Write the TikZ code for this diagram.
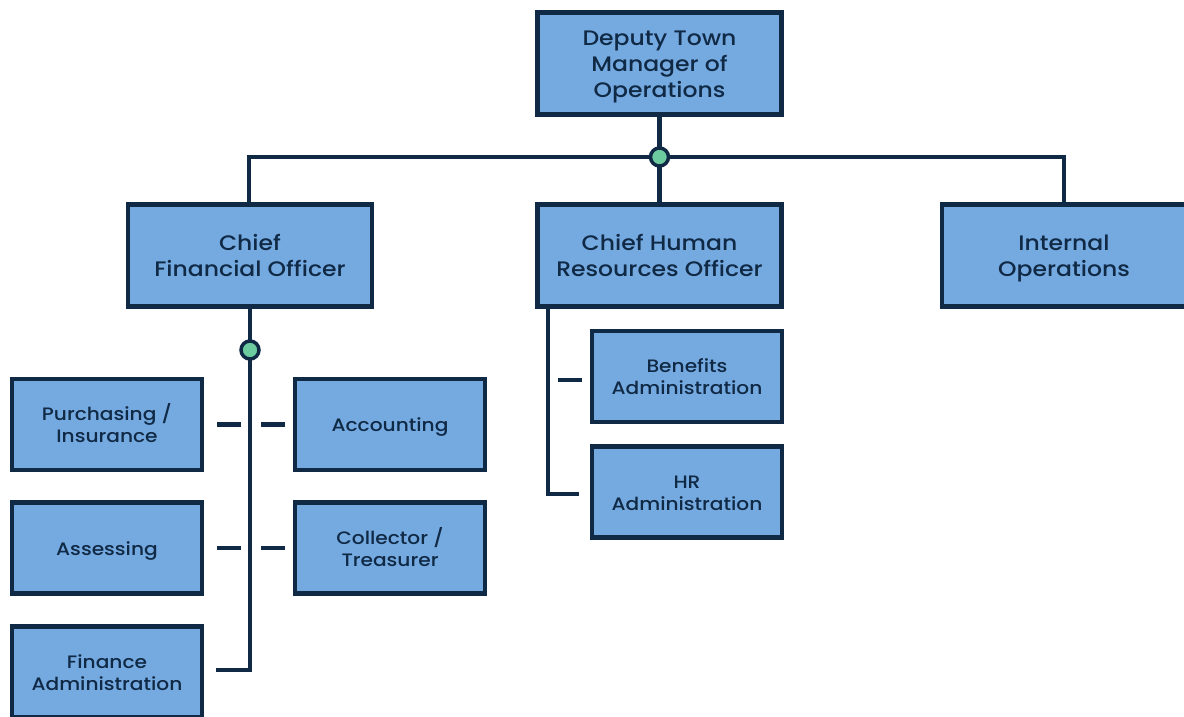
\documentclass[tikz,border=0pt]{standalone}
\usepackage{fontspec}
\setmainfont{Poppins Medium}[FakeStretch=1.12]
\usetikzlibrary{calc}
\definecolor{boxfill}{RGB}{117,170,225}
\definecolor{navy}{RGB}{16,41,69}
\definecolor{dotgreen}{RGB}{108,204,160}
\newcommand{\sline}[1]{\strut#1}
\newcommand{\fline}[1]{\rule[-0.3\baselineskip]{0pt}{\dimexpr\baselineskip+0.3em\relax}#1}
\tikzset{
  bigbox/.style={draw=navy, fill=boxfill, line width=4.5pt, minimum width=244pt, minimum height=102pt, align=center, text=navy, font=\fontsize{21}{26}\selectfont, inner sep=0pt},
  smallbox/.style={draw=navy, fill=boxfill, line width=4.5pt, minimum width=190pt, minimum height=91pt, align=center, text=navy, font=\fontsize{18}{22}\selectfont, inner sep=0pt},
  conn/.style={draw=navy, line width=4.6pt},
  junction/.style={circle, draw=navy, fill=dotgreen, line width=3.5pt, minimum size=18pt, inner sep=0pt},
}
\begin{document}
\begin{tikzpicture}[x=1pt, y=-1pt]
\useasboundingbox (0,0) rectangle (1184,717);
% nodes
\node[bigbox] (dtm) at (659.5,63.5) {\fline{Deputy Town}\\\sline{Manager of}\\\sline{Operations}};
\node[bigbox] (cfo) at (250,255.5) {\fline{Chief}\\\sline{Financial Officer}};
\node[bigbox] (chro) at (659.5,255.5) {\fline{Chief Human}\\\sline{Resources Officer}};
\node[bigbox] (io) at (1064,255.5) {\fline{Internal}\\\sline{Operations}};
\node[smallbox] (purch) at (107,424.5) {\fline{Purchasing /}\\\sline{Insurance}};
\node[smallbox] (acct) at (390,424.5) {\fline{Accounting}};
\node[smallbox] (assess) at (107,548) {\fline{Assessing}};
\node[smallbox] (coll) at (390,548) {\fline{Collector /}\\\sline{Treasurer}};
\node[smallbox] (fin) at (107,672) {\fline{Finance}\\\sline{Administration}};
\node[smallbox] (ben) at (687,376.5) {\fline{Benefits}\\\sline{Administration}};
\node[smallbox] (hra) at (687,492) {\fline{HR}\\\sline{Administration}};
% coordinates
\coordinate (top) at (659.5,157);
\coordinate (lt) at (249,157);
\coordinate (rt) at (1064,157);
\coordinate (cfodot) at (250,350);
\coordinate (cfoend) at (250,670);
\coordinate (finend) at (216,670);
\coordinate (chroend) at (548,494);
\coordinate (hraend) at (579,494);
% connectors
\draw[conn] (dtm.south) -- (top);
\draw[conn] (lt |- cfo.north) -- (lt) -- (rt) -- (rt |- io.north);
\draw[conn] (top) -- (chro.north);
\draw[conn] (cfo.south) -- (cfoend) -- (finend);
\draw[conn] (chroend |- chro.south) -- (chroend) -- (hraend);
% dashes
\draw[conn] ($(purch.east)+(13,0)$) -- ++(24,0);
\draw[conn] ($(acct.west)+(-32,0)$) -- ++(24,0);
\draw[conn] ($(assess.east)+(13,0)$) -- ++(24,0);
\draw[conn] ($(coll.west)+(-32,0)$) -- ++(24,0);
\draw[conn] ($(ben.west)+(-32,3.5)$) -- ++(24,0);
% junction dots
\node[junction] (dot1) at (top) {};
\node[junction] (dot2) at (cfodot) {};
\end{tikzpicture}
\end{document}
